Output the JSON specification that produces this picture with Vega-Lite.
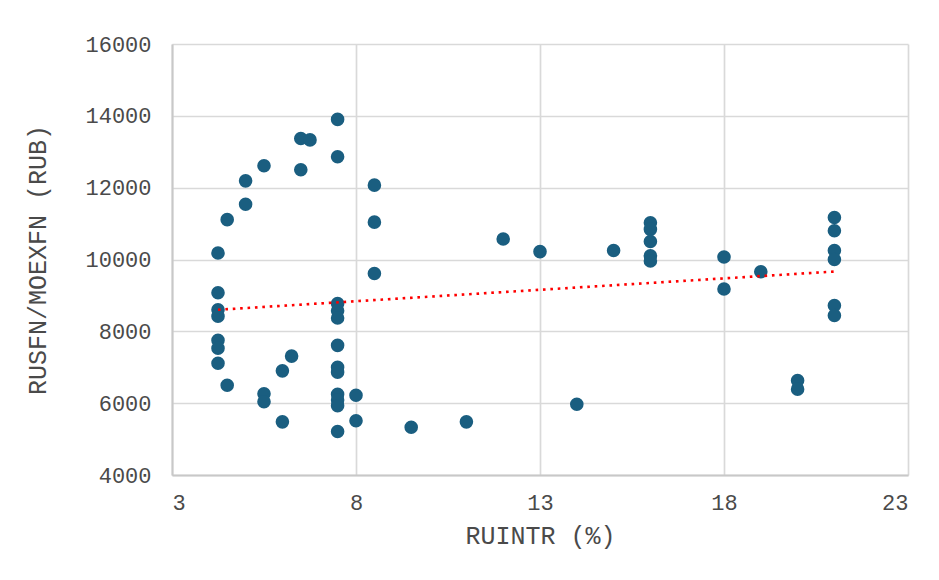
{
  "$schema": "https://vega.github.io/schema/vega-lite/v6.json",
  "width": 736,
  "height": 431,
  "autosize": {"type": "none"},
  "padding": {"left": 172, "top": 44, "right": 31, "bottom": 105},
  "background": "white",
  "config": {
    "view": {"stroke": null},
    "font": "Liberation Mono",
    "axis": {
      "labelFont": "Liberation Mono",
      "titleFont": "Liberation Mono",
      "labelFontSize": 22,
      "titleFontSize": 25,
      "labelColor": "#4a4a4a",
      "titleColor": "#4a4a4a",
      "titleFontWeight": "normal",
      "gridColor": "#d9d9d9",
      "gridWidth": 1.7,
      "domainColor": "#c8c8c8",
      "domainWidth": 2,
      "ticks": false
    }
  },
  "datasets": {
    "points": [
      {"x": 4.25, "y": 10180}, {"x": 4.25, "y": 9075}, {"x": 4.25, "y": 8600}, {"x": 4.25, "y": 8420},
      {"x": 4.25, "y": 7750}, {"x": 4.25, "y": 7530}, {"x": 4.25, "y": 7110},
      {"x": 4.5, "y": 11110}, {"x": 4.5, "y": 6500},
      {"x": 5, "y": 12190}, {"x": 5, "y": 11540},
      {"x": 5.5, "y": 12610}, {"x": 5.5, "y": 6260}, {"x": 5.5, "y": 6040},
      {"x": 6, "y": 6900}, {"x": 6, "y": 5480},
      {"x": 6.25, "y": 7310},
      {"x": 6.5, "y": 13370}, {"x": 6.5, "y": 12500},
      {"x": 6.75, "y": 13330},
      {"x": 7.5, "y": 13900}, {"x": 7.5, "y": 12860}, {"x": 7.5, "y": 8770}, {"x": 7.5, "y": 8570},
      {"x": 7.5, "y": 8370}, {"x": 7.5, "y": 7610}, {"x": 7.5, "y": 7000}, {"x": 7.5, "y": 6860},
      {"x": 7.5, "y": 6250}, {"x": 7.5, "y": 6090}, {"x": 7.5, "y": 5930}, {"x": 7.5, "y": 5210},
      {"x": 8, "y": 6220}, {"x": 8, "y": 5510},
      {"x": 8.5, "y": 12070}, {"x": 8.5, "y": 11040}, {"x": 8.5, "y": 9610},
      {"x": 9.5, "y": 5330},
      {"x": 11, "y": 5480},
      {"x": 12, "y": 10570},
      {"x": 13, "y": 10220},
      {"x": 14, "y": 5970},
      {"x": 15, "y": 10250},
      {"x": 16, "y": 11020}, {"x": 16, "y": 10840}, {"x": 16, "y": 10500}, {"x": 16, "y": 10100}, {"x": 16, "y": 9960},
      {"x": 18, "y": 10070}, {"x": 18, "y": 9180},
      {"x": 19, "y": 9660},
      {"x": 20, "y": 6630}, {"x": 20, "y": 6390},
      {"x": 21, "y": 11170}, {"x": 21, "y": 10800}, {"x": 21, "y": 10250}, {"x": 21, "y": 10000},
      {"x": 21, "y": 8720}, {"x": 21, "y": 8440}
    ],
    "trend": [
      {"x": 4.25, "y": 8600},
      {"x": 21, "y": 9665}
    ]
  },
  "encoding": {
    "x": {
      "field": "x", "type": "quantitative",
      "scale": {"domain": [3, 23], "nice": false, "zero": false},
      "axis": {"values": [3, 8, 13, 18, 23], "format": "d", "title": "RUINTR (%)", "labelPadding": 17, "titlePadding": 10}
    },
    "y": {
      "field": "y", "type": "quantitative",
      "scale": {"domain": [4000, 16000], "nice": false, "zero": false},
      "axis": {"values": [4000, 6000, 8000, 10000, 12000, 14000, 16000], "format": "d", "title": "RUSFN/MOEXFN (RUB)", "labelPadding": 21, "titlePadding": 34}
    }
  },
  "layer": [
    {
      "data": {"name": "points"},
      "mark": {"type": "point", "filled": true, "shape": "circle", "size": 185, "color": "#1a5e80", "opacity": 1}
    },
    {
      "data": {"name": "trend"},
      "mark": {"type": "line", "color": "#ff0000", "strokeWidth": 2.6, "strokeDash": [2.6, 4.8]}
    }
  ]
}
